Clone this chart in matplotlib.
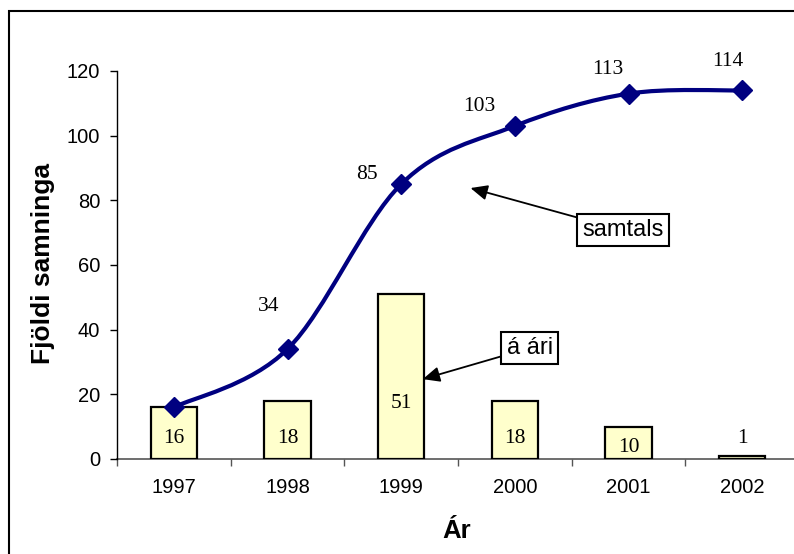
import matplotlib
matplotlib.use("Agg")
import matplotlib.pyplot as plt
from matplotlib.path import Path
from matplotlib.patches import PathPatch, Rectangle
import numpy as np

# ---- data ----
years = ["1997", "1998", "1999", "2000", "2001", "2002"]
per_year = [16, 18, 51, 18, 10, 1]          # á ári (bars)
cumulative = [16, 34, 85, 103, 113, 114]    # samtals (line)
y_ticks = [0, 20, 40, 60, 80, 100, 120]

# label placement (layout only)
line_label_pos = [None, (0.83, 45.8), (1.70, 86.6), (2.69, 107.6), (3.82, 119.1), (4.87, 121.6)]
bar_label_y = [4.9, 4.9, 15.8, 4.9, 2.2, 4.9]

W, H = 794, 554
fig = plt.figure(figsize=(W / 100, H / 100), dpi=100)
fig.patch.set_facecolor("white")

# axes placement in pixels
ax_l, ax_r, ax_t, ax_b = 117, 799, 71, 459
ax = fig.add_axes([ax_l / W, 1 - ax_b / H, (ax_r - ax_l) / W, (ax_b - ax_t) / H])
ax.set_facecolor("none")

x = np.arange(len(years))
ax.bar(x, per_year, width=0.405, color="#FFFFCC", edgecolor="black", linewidth=1.6, zorder=2)

# smooth (Catmull-Rom / Bezier) line through the cumulative values
pts = np.column_stack([x, cumulative]).astype(float)
ext = np.vstack([pts[0], pts, pts[-1]])
verts = [tuple(pts[0])]
codes = [Path.MOVETO]
for i in range(len(pts) - 1):
    p0, p1, p2, p3 = ext[i], ext[i + 1], ext[i + 2], ext[i + 3]
    c1 = p1 + (p2 - p0) / 6.0
    c2 = p2 - (p3 - p1) / 6.0
    verts += [tuple(c1), tuple(c2), tuple(p2)]
    codes += [Path.CURVE4] * 3
ax.add_patch(PathPatch(Path(verts, codes), facecolor="none", edgecolor="#000080",
                       linewidth=3.0, zorder=3, capstyle="round"))
ax.plot(x, cumulative, linestyle="none", marker="D", markersize=10.5,
        color="#000080", zorder=4)

serif = ["Liberation Serif", "DejaVu Serif"]
sans = ["Liberation Sans", "DejaVu Sans"]

for pos, v in zip(line_label_pos, cumulative):
    if pos is None:
        continue
    ax.text(pos[0], pos[1], str(v), ha="center", va="baseline",
            fontsize=15.5, family=serif, zorder=5)
for xi, yl, v in zip(x, bar_label_y, per_year):
    ax.text(xi, yl, str(v), ha="center", va="baseline", fontsize=15.5,
            family=serif, zorder=5)

# annotations
arrow = dict(arrowstyle="-|>,head_length=0.6,head_width=0.27", color="black",
             linewidth=1.3, shrinkA=0, shrinkB=0)
box = dict(boxstyle="square,pad=0.22", facecolor="white", edgecolor="black", linewidth=1.5)
ax.annotate("samtals", xy=(2.61, 83.8), xytext=(3.95, 70.8), ha="center", va="center",
            fontsize=17, family=sans, bbox=box, arrowprops=arrow, zorder=6)
ax.annotate("á ári", xy=(2.19, 24.7), xytext=(3.13, 34.3), ha="center", va="center",
            fontsize=17, family=sans, bbox=box, arrowprops=arrow, zorder=6)

ax.set_xlim(-0.5, 5.5)
ax.set_ylim(0, 120)
ax.set_yticks(y_ticks)
ax.set_yticklabels([str(t) for t in y_ticks], fontsize=14.5, family=sans)
ax.set_xticks(x)
ax.set_xticklabels(years, fontsize=14.5, family=sans)
ax.set_xticks(np.arange(-0.5, 6.0, 1.0), minor=True)
ax.tick_params(axis="x", which="major", length=0, pad=14)
ax.tick_params(axis="x", which="minor", length=5, width=1.0, direction="out", color="#555555")
ax.tick_params(axis="y", length=5, width=1.0, direction="out", pad=7)

for s in ["top", "right"]:
    ax.spines[s].set_visible(False)
ax.spines["left"].set_color("black")
ax.spines["left"].set_linewidth(1.0)
ax.spines["bottom"].set_color("#555555")
ax.spines["bottom"].set_linewidth(1.2)
ax.spines["bottom"].set_zorder(1)

fig.text(43 / W, 1 - 264 / H, "Fjöldi samninga", rotation=90, ha="center", va="center",
         fontsize=19, fontweight="bold", family=sans)
fig.text(457 / W, 1 - 538 / H, "Ár", ha="center", va="baseline",
         fontsize=18.5, fontweight="bold", family=sans)

# outer chart border (continues past the crop on right/bottom)
fig.patches.append(Rectangle((9 / W, -0.2), 1.5, 1 - 11 / H + 0.2, transform=fig.transFigure,
                             fill=False, edgecolor="black", linewidth=1.5))

fig.savefig("out.png", dpi=100)
